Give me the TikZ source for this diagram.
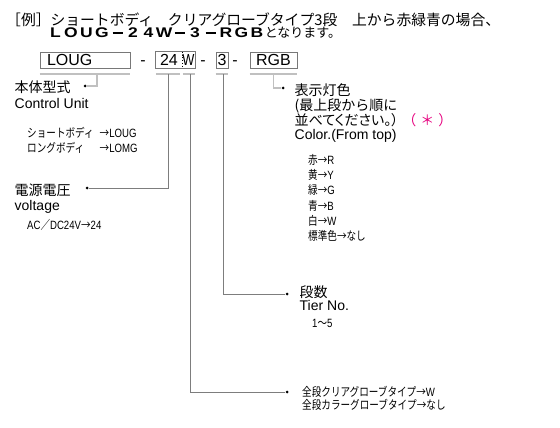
\documentclass[tikz,border=0pt]{standalone}
\usepackage{fontspec}
\setmainfont{Liberation Sans}
\newfontfamily\jp{Noto Sans CJK JP}
\newfontfamily\jpp{Noto Sans CJK JP}[RawFeature=+palt]
\newfontfamily\jpn{Noto Sans CJK JP}[FakeStretch=0.8]
\newfontfamily\lsn{Liberation Sans}[FakeStretch=0.8]
\newfontfamily\wbold{Liberation Sans}[FakeStretch=1.25]
\definecolor{boxgray}{RGB}{120,120,120}
\definecolor{ulgray}{RGB}{192,192,192}
\definecolor{lngray}{RGB}{125,125,125}
\definecolor{starpink}{RGB}{230,0,126}
\newcommand{\wch}[1]{\makebox[15.5pt][c]{#1}}
\newcommand{\wdash}{\wch{\rule[3.6pt]{10pt}{1.8pt}}}
\newcommand{\arr}{{\jpn →}}

\begin{document}
\begin{tikzpicture}[x=1pt, y=-1pt,
		boxtext/.style={inner sep=0pt, minimum height=16pt, font=\fontsize{16}{16}\selectfont},
		boxline/.style={draw=boxgray, line width=0.7pt},
		codebox/.style={boxtext, boxline},
		sep/.style={anchor=base, inner sep=0pt, font=\fontsize{16}{16}\selectfont},
		underl/.style={draw=ulgray, line width=1.8pt},
		hookline/.style={draw=ulgray, line width=1.5pt},
		link/.style={draw=lngray, line width=0.8pt},
		bul/.style={circle, fill=black, inner sep=0pt, minimum size=3pt},
		desc/.style={anchor=base west, inner sep=0pt, align=left},
		small/.style={desc, font=\fontsize{12}{15}\lsn}]

	\useasboundingbox (0,0) rectangle (560,428);

	% Cabecera
	\node[desc, font=\fontsize{14.8}{16}\jp] (head1) at (6,25.6)
		{［例］ショートボディ　クリアグローブタイプ3段　上から赤緑青の場合、};
	\node[desc] (head2) at (47.6,37.5)
		{{\fontsize{14}{14}\wbold\bfseries\wch{L}\wch{O}\wch{U}\wch{G}\wdash\wch{2}\wch{4}\wch{W}\wdash\wch{3}\wdash\wch{R}\wch{G}\wch{B}}{\fontsize{13}{13}\jp となります。}};

	% Casillas del codigo
	\node[codebox, minimum width=90pt, text width=76pt, align=left] (cLoug) at (85,60) {LOUG};
	\node[sep] (s1) at (143,65.5) {-};
	\node[boxtext, minimum width=26pt] (c24) at (169,60) {24};
	\node[boxtext, minimum width=13pt, font=\fontsize{16}{16}\lsn] (cW) at (188.5,60) {W};
	\draw[boxline] (c24.north west) rectangle (cW.south east);
	\draw[dotted, line width=0.8pt] (c24.north east) -- (c24.south east);
	\node[sep] (s2) at (203,65.5) {-};
	\node[codebox, minimum width=12pt] (c3) at (222,60) {3};
	\node[sep] (s3) at (235,65.5) {-};
	\node[codebox, minimum width=47pt] (cRgb) at (273.5,60) {RGB};

	\draw[underl] ([yshift=-6pt]cLoug.south west) -- ([yshift=-6pt]cLoug.south east);
	\draw[underl] ([yshift=-6pt]c24.south west) -- ([xshift=-2pt,yshift=-6pt]c24.south east);
	\draw[underl] ([xshift=1pt,yshift=-6pt]cW.south west) -- ([yshift=-6pt]cW.south east);
	\draw[underl] ([yshift=-6pt]c3.south west) -- ([yshift=-6pt]c3.south east);
	\draw[underl] ([yshift=-6pt]cRgb.south west) -- ([yshift=-6pt]cRgb.south east);

	\coordinate (tLoug) at ([xshift=12pt,yshift=-6pt]cLoug.south);
	\coordinate (t24) at ([xshift=-1pt,yshift=-6pt]c24.south);
	\coordinate (tW) at ([xshift=2pt,yshift=-6pt]cW.south);
	\coordinate (t3) at ([xshift=1pt,yshift=-6pt]c3.south);
	\coordinate (tRgb) at ([yshift=-6pt]cRgb.south);

	\node[bul] (b1) at (85,86) {};
	\node[bul] (b2) at (87,188) {};
	\node[bul] (b3) at (287,294) {};
	\node[bul] (b4) at (283,88) {};
	\node[bul] (b5) at (287,392) {};

	\draw[hookline] (tLoug) |- (b1);
	\draw[hookline] (tRgb) |- (b4);
	\draw[link] (t24) |- (b2);
	\draw[link] (t3) |- (b3);
	\draw[link] (tW) |- (b5);

	% Textos (base = ultima linea)
	\node[desc, font=\fontsize{14}{16}\selectfont] (lUnit) at (14.5,108.3) {{\jp 本体型式}\\Control Unit};
	\node[small] (lBody) at (27,137)
		{\begin{tabular}[t]{@{}l@{\hspace{6pt}}l@{}}{\jpn ショートボディ} & \arr LOUG\\{\jpn ロングボディ} & \arr LOMG\end{tabular}};
	\node[desc, font=\fontsize{14}{15}\selectfont] (lVolt) at (14.5,210) {{\jp 電源電圧}\\voltage};
	\node[small] (lAcdc) at (27,229) {AC{\jpn ／}DC24V\arr 24};
	\node[desc, font=\fontsize{14}{14.8}\selectfont] (lColor) at (294.5,139.9)
		{{\jp 表示灯色}\\{\jp (最上段から順に}\\{\jpp 並べてください。）}\hspace{4pt}{\color{starpink}\jp （\hspace{4pt}＊\hspace{4pt}）}\\Color.(From top)};
	\node[small, font=\fontsize{12}{15.2}\lsn] (lColList) at (308,240.5)
		{{\jpn 赤}\arr R\\{\jpn 黄}\arr Y\\{\jpn 緑}\arr G\\{\jpn 青}\arr B\\{\jpn 白}\arr W\\{\jpn 標準色}\arr{\jpn なし}};
	\node[desc, font=\fontsize{14}{13}\selectfont] (lTier) at (299.5,310) {{\jp 段数}\\Tier No.};
	\node[small] (lRange) at (312,327) {1{\jpn ～}5};
	\node[small, font=\fontsize{12}{13}\lsn] (lGlobe) at (302,409.5)
		{{\jpn 全段クリアグローブタイプ}\arr W\\{\jpn 全段カラーグローブタイプ}\arr{\jpn なし}};

\end{tikzpicture}
\end{document}
